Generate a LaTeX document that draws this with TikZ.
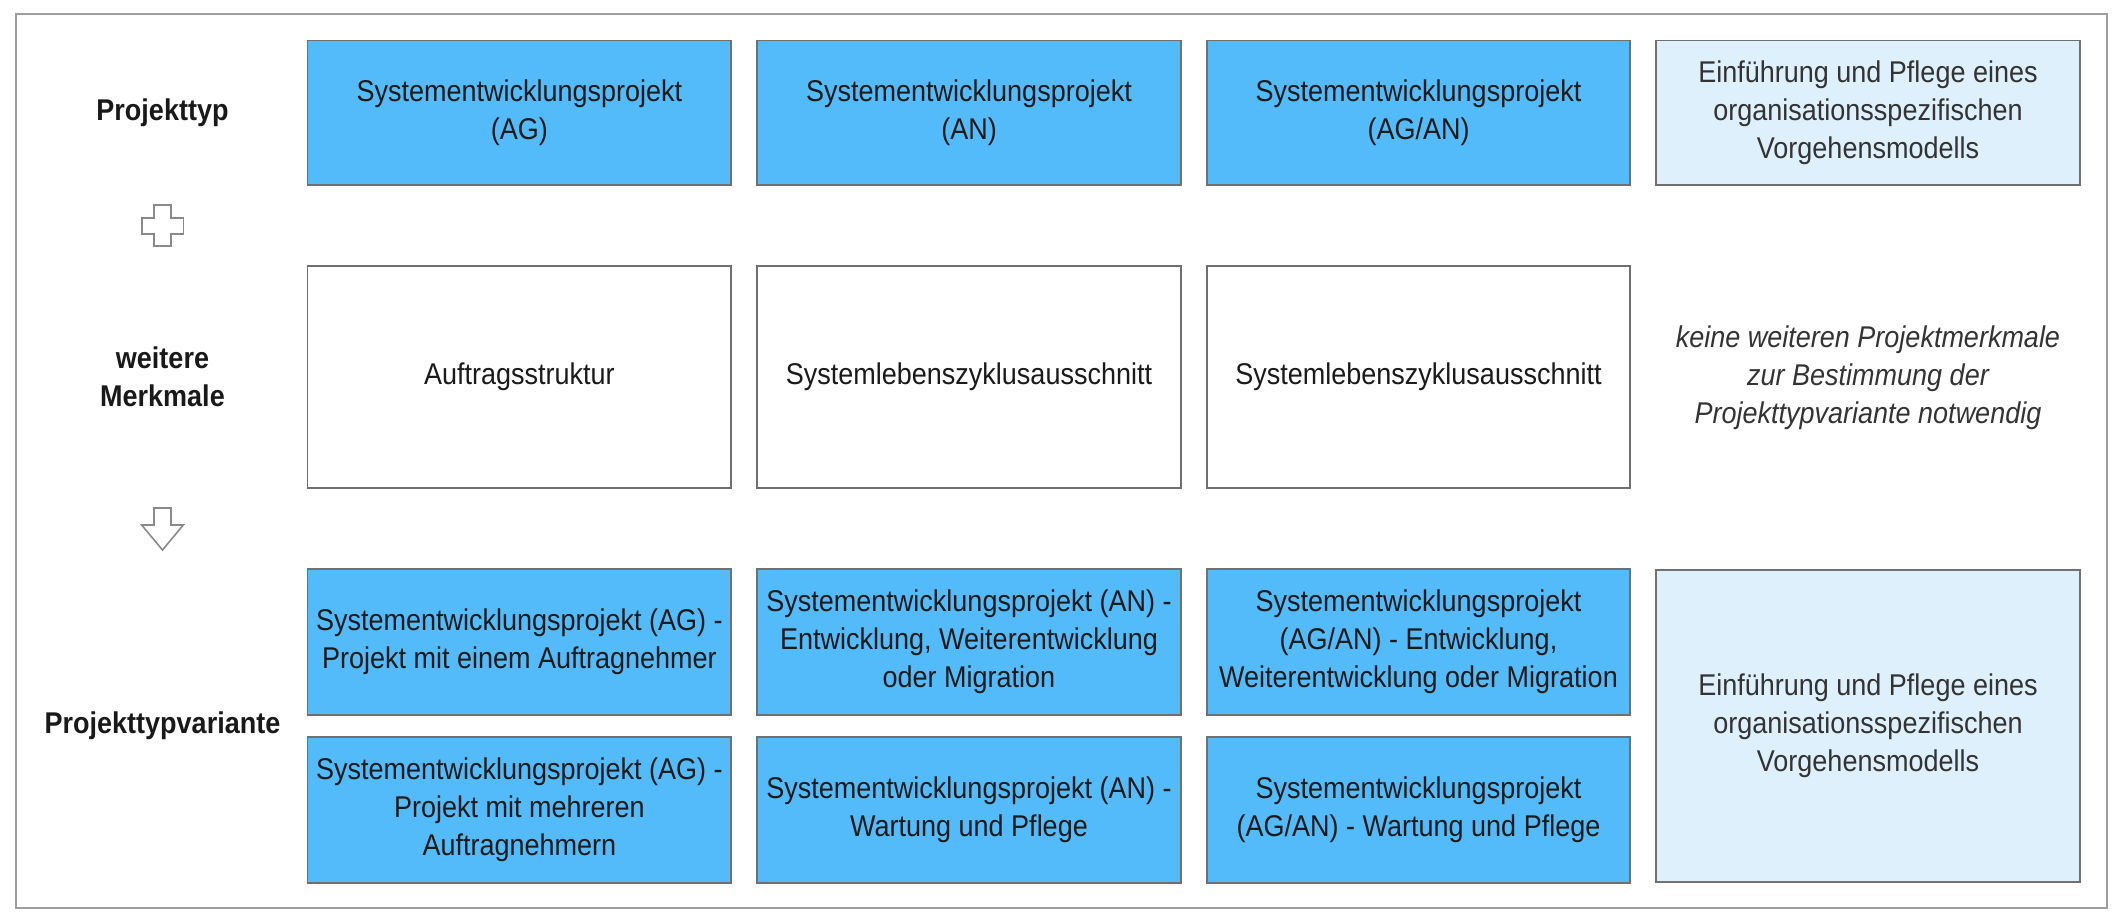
\documentclass[tikz,border=0pt]{standalone}
\usepackage{fontspec}
\setmainfont{Liberation Sans}[FakeStretch=0.9]
\definecolor{bluedark}{HTML}{53BBFA}
\definecolor{bluelight}{HTML}{DDF0FC}
\definecolor{boxgray}{HTML}{707070}
\definecolor{framegray}{HTML}{9E9E9E}
\definecolor{textdark}{HTML}{1A1A1A}
\definecolor{textgray}{HTML}{333333}
\definecolor{icongray}{HTML}{8A8A8A}
\begin{document}
\begin{tikzpicture}[x=0.5pt,y=-0.5pt,
  box/.style={draw=boxgray, line width=0.8pt, minimum width=211.75pt, align=center,
    font=\fontsize{15}{19}\selectfont, text=textdark, inner sep=2pt},
  dark/.style={box, fill=bluedark},
  light/.style={box, fill=bluelight, text=textgray},
  plain/.style={box, fill=white},
  rowlabel/.style={font=\fontsize{15}{19}\selectfont\bfseries, align=center, text=black!90},
  note/.style={font=\fontsize{15}{19}\selectfont\itshape, align=center, text=textgray},
  icon/.style={draw=icongray, line width=0.8pt, fill=white, line join=miter},
  r1/.style={minimum height=72.25pt},
  r2/.style={minimum height=111.25pt},
  r3/.style={minimum height=72.75pt},
  r4/.style={minimum height=156.25pt}]
\useasboundingbox (0,0) rectangle (2116,916);
\draw[framegray, line width=0.8pt] (16,14) rectangle (2107,908);

% row labels
\node[rowlabel] (l1) at (162.5,113) {Projekttyp};
\node[rowlabel] (l2) at (162.5,377) {weitere\\Merkmale};
\node[rowlabel] (l3) at (162.5,726) {Projekttypvariante};

% row 1
\node[dark, r1] (t1) at (519.4,112.75) {Systementwicklungsprojekt\\(AG)};
\node[dark, r1] (t2) at (969,112.75) {Systementwicklungsprojekt\\(AN)};
\node[dark, r1] (t3) at (1418.5,112.75) {Systementwicklungsprojekt\\(AG/AN)};
\node[light, r1] (t4) at (1868,112.75) {Einführung und Pflege eines\\organisationsspezifischen\\Vorgehensmodells};

% row 2
\node[plain, r2] (m1) at (519.4,377) {Auftragsstruktur};
\node[plain, r2] (m2) at (969,377) {Systemlebenszyklusausschnitt};
\node[plain, r2] (m3) at (1418.5,377) {Systemlebenszyklusausschnitt};
\node[note] (m4) at (1868,378) {keine weiteren Projektmerkmale\\zur Bestimmung der\\Projekttypvariante notwendig};

% row 3
\node[dark, r3] (v1a) at (519.4,642) {Systementwicklungsprojekt (AG) -\\Projekt mit einem Auftragnehmer};
\node[dark, r3] (v2a) at (969,642) {Systementwicklungsprojekt (AN) -\\Entwicklung, Weiterentwicklung\\oder Migration};
\node[dark, r3] (v3a) at (1418.5,642) {Systementwicklungsprojekt\\(AG/AN) - Entwicklung,\\Weiterentwicklung oder Migration};
\node[dark, r3] (v1b) at (519.4,810) {Systementwicklungsprojekt (AG) -\\Projekt mit mehreren\\Auftragnehmern};
\node[dark, r3] (v2b) at (969,810) {Systementwicklungsprojekt (AN) -\\Wartung und Pflege};
\node[dark, r3] (v3b) at (1418.5,810) {Systementwicklungsprojekt\\(AG/AN) - Wartung und Pflege};
\node[light, r4] (v4) at (1868,726) {Einführung und Pflege eines\\organisationsspezifischen\\Vorgehensmodells};

% plus icon
\draw[icon] (154,205) -- (171,205) -- (171,218) -- (183.3,218) -- (183.3,234) -- (171,234)
  -- (171,246) -- (154,246) -- (154,234) -- (141.7,234) -- (141.7,218) -- (154,218) -- cycle;
% down arrow icon
\draw[icon] (154,508) -- (171,508) -- (171,525) -- (183.3,525) -- (162.5,550) -- (141.7,525)
  -- (154,525) -- cycle;
\end{tikzpicture}
\end{document}
